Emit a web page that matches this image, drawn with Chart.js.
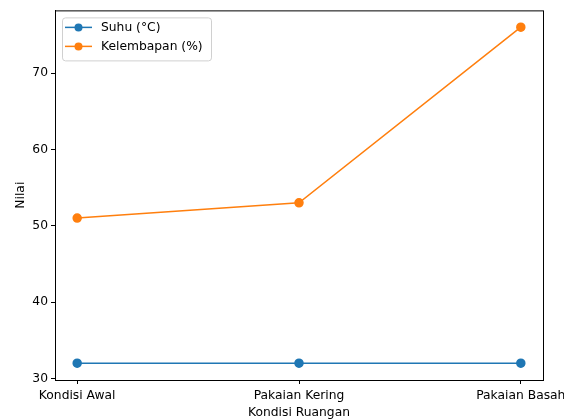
<!DOCTYPE html>
<html>
<head>
    <meta charset="utf-8">
    <title>Suhu dan Kelembapan</title>
    <script src="https://cdn.jsdelivr.net/npm/chart.js@4.4.0/dist/chart.umd.min.js"></script>
    <style>
        body { margin: 0; background: #fff; }
        #wrap { width: 564px; height: 420px; }
    </style>
</head>
<body>
    <div id="wrap"><canvas id="myChart"></canvas></div>
    <script>
        // data
        const categories = ['Kondisi Awal', 'Pakaian Kering', 'Pakaian Basah'];
        const suhu = [32, 32, 32];
        const kelembapan = [51, 53, 76];
        const yTicks = [30, 40, 50, 60, 70];

        const BLUE = '#1f77b4';
        const ORANGE = '#ff7f0e';
        const FONT = { family: 'DejaVu Sans', size: 12.3 };

        const toPoints = arr => arr.map((v, i) => ({ x: i, y: v }));

        // frame around plot area + matplotlib-like legend box
        const framePlugin = {
            id: 'frame',
            afterDraw(chart) {
                const { ctx, chartArea: a } = chart;
                ctx.save();
                ctx.strokeStyle = '#000';
                ctx.lineWidth = 1;
                ctx.strokeRect(a.left + 0.5, a.top + 0.5, a.right - a.left, a.bottom - a.top);

                // legend
                const bx = a.left + 7, by = a.top + 7, bw = 149, bh = 43;
                ctx.fillStyle = 'rgba(255,255,255,0.8)';
                ctx.strokeStyle = '#d0d0d0';
                ctx.beginPath();
                ctx.roundRect(bx + 0.5, by + 0.5, bw, bh, 3);
                ctx.fill();
                ctx.stroke();
                const items = [
                    { text: 'Suhu (°C)', color: BLUE },
                    { text: 'Kelembapan (%)', color: ORANGE }
                ];
                ctx.font = '12.3px "DejaVu Sans"';
                ctx.textBaseline = 'middle';
                items.forEach((it, i) => {
                    const y = by + 10 + i * 19;
                    ctx.strokeStyle = it.color;
                    ctx.lineWidth = 1.5;
                    ctx.beginPath();
                    ctx.moveTo(bx + 3, y);
                    ctx.lineTo(bx + 30, y);
                    ctx.stroke();
                    ctx.fillStyle = it.color;
                    ctx.beginPath();
                    ctx.arc(bx + 16.5, y, 4, 0, Math.PI * 2);
                    ctx.fill();
                    ctx.fillStyle = '#000';
                    ctx.fillText(it.text, bx + 39, y);
                });
                ctx.restore();
            }
        };

        const config = {
            type: 'line',
            data: {
                datasets: [
                    {
                        label: 'Suhu (°C)',
                        data: toPoints(suhu),
                        borderColor: BLUE,
                        backgroundColor: BLUE,
                        borderWidth: 1.5,
                        pointRadius: 4,
                        pointHoverRadius: 4,
                        tension: 0
                    },
                    {
                        label: 'Kelembapan (%)',
                        data: toPoints(kelembapan),
                        borderColor: ORANGE,
                        backgroundColor: ORANGE,
                        borderWidth: 1.5,
                        pointRadius: 4,
                        pointHoverRadius: 4,
                        tension: 0
                    }
                ]
            },
            options: {
                responsive: true,
                maintainAspectRatio: false,
                animation: false,
                layout: { padding: { top: 10, right: 21, left: 0, bottom: 0 } },
                plugins: {
                    legend: { display: false },
                    tooltip: { enabled: false }
                },
                scales: {
                    x: {
                        type: 'linear',
                        min: -0.1,
                        max: 2.1,
                        afterBuildTicks(scale) {
                            scale.ticks = categories.map((c, i) => ({ value: i }));
                        },
                        afterFit(scale) {
                            scale.height = 40;
                            scale.paddingLeft = 0;
                            scale.paddingRight = 0;
                        },
                        ticks: {
                            color: '#000',
                            font: FONT,
                            padding: 4,
                            maxRotation: 0,
                            autoSkip: false,
                            callback: v => categories[v]
                        },
                        grid: {
                            drawOnChartArea: false,
                            tickLength: 4,
                            tickColor: '#000'
                        },
                        border: { color: '#000' },
                        title: {
                            display: true,
                            text: 'Kondisi Ruangan',
                            color: '#000',
                            font: FONT,
                            padding: { top: 0, bottom: 0 }
                        }
                    },
                    y: {
                        min: 29.8,
                        max: 78.2,
                        afterBuildTicks(scale) {
                            scale.ticks = yTicks.map(v => ({ value: v }));
                        },
                        afterFit(scale) { scale.width = 55; },
                        ticks: {
                            color: '#000',
                            font: FONT,
                            padding: 3
                        },
                        grid: {
                            drawOnChartArea: false,
                            tickLength: 4,
                            tickColor: '#000'
                        },
                        border: { color: '#000' },
                        title: {
                            display: true,
                            text: 'Nilai',
                            color: '#000',
                            font: FONT,
                            padding: { top: 13, bottom: 0 }
                        }
                    }
                }
            },
            plugins: [framePlugin]
        };

        const myChart = new Chart(document.getElementById('myChart'), config);
    </script>
</body>
</html>
